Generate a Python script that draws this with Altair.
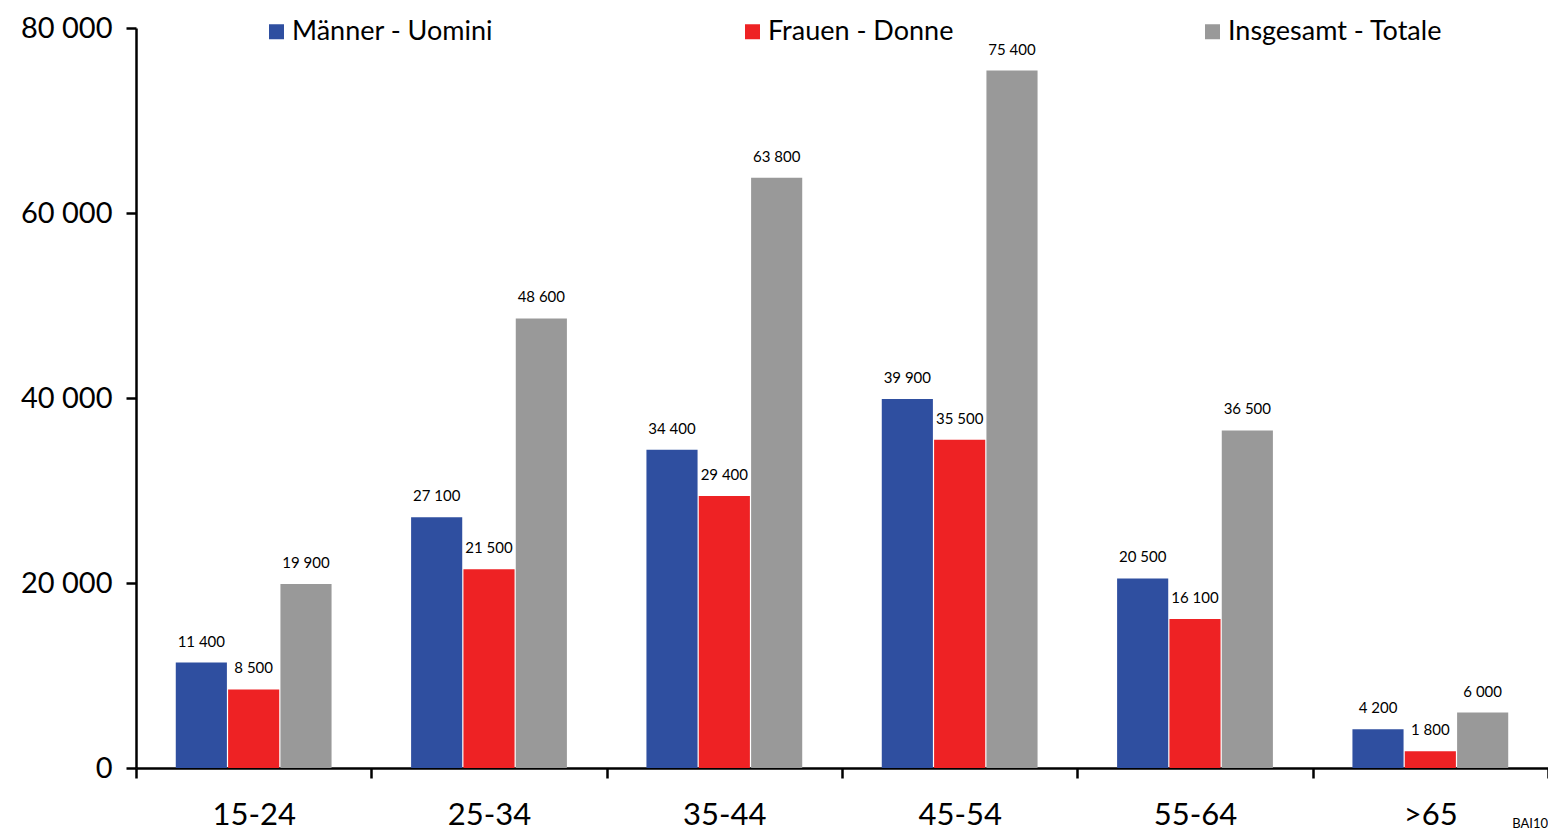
import altair as alt
import pandas as pd

age_groups = ["15-24", "25-34", "35-44", "45-54", "55-64", ">65"]
series = ["Männer - Uomini", "Frauen - Donne", "Insgesamt - Totale"]
maenner = [11400, 27100, 34400, 39900, 20500, 4200]
frauen = [8500, 21500, 29400, 35500, 16100, 1800]
insgesamt = [19900, 48600, 63800, 75400, 36500, 6000]
colors = ["#2f4fa0", "#ee2224", "#999999"]
y_ticks = [0, 20000, 40000, 60000, 80000]
source_note = ["BAI10"]

rows = []
for i, a in enumerate(age_groups):
    for s, vals in zip(series, [maenner, frauen, insgesamt]):
        rows.append({"age": a, "series": s, "value": vals[i]})
df = pd.DataFrame(rows)

FONT = "Lato"
W, H = 1412, 740

x_enc = alt.X(
    "age:N", sort=age_groups,
    scale=alt.Scale(paddingInner=0, paddingOuter=0),
    axis=alt.Axis(title=None, labelAngle=0, tickBand="extent", tickSize=10,
                  tickWidth=2.5, tickColor="black", domainWidth=2.5,
                  domainColor="black", labelFont=FONT, labelFontSize=31,
                  labelColor="black", labelPadding=22, grid=False),
)
xoff_enc = alt.XOffset("series:N", sort=series,
                       scale=alt.Scale(paddingInner=0.023, paddingOuter=0.76))
y_enc = alt.Y(
    "value:Q",
    scale=alt.Scale(domain=[0, 80000], nice=False),
    axis=alt.Axis(title=None, values=y_ticks, tickSize=10, tickWidth=2.5,
                  tickColor="black", domainWidth=2.5, domainColor="black",
                  labelFont=FONT, labelFontSize=29, labelColor="black",
                  labelPadding=14, grid=False,
                  labelExpr="replace(format(datum.value, ','), ',', ' ')"),
)

color_enc = alt.Color(
    "series:N", sort=series,
    scale=alt.Scale(domain=series, range=colors),
    legend=alt.Legend(title=None, orient="none", legendX=127, legendY=-10,
                      direction="horizontal", symbolType="square",
                      symbolSize=225, symbolStrokeWidth=0, labelFont=FONT,
                      labelFontSize=27, labelColor="black", labelOffset=2,
                      labelLimit=0, columnPadding=245),
)

bars = alt.Chart(df).mark_bar().encode(
    x=x_enc, xOffset=xoff_enc, y=y_enc, color=color_enc
)

labels = alt.Chart(df).transform_calculate(
    lbl="replace(format(datum.value, ','), ',', ' ')"
).mark_text(font=FONT, fontSize=15, color="black", dy=-16,
            baseline="alphabetic", align="center").encode(
    x=alt.X("age:N", sort=age_groups),
    xOffset=alt.XOffset("series:N", sort=series),
    y="value:Q",
    text="lbl:N",
)

note = alt.Chart(pd.DataFrame({"t": source_note})).mark_text(
    font=FONT, fontSize=13, color="black", align="right", baseline="alphabetic"
).encode(text="t:N", x=alt.value(W), y=alt.value(H + 60))

chart = alt.layer(bars, labels, note).properties(
    width=W, height=H,
    autosize=alt.AutoSizeParams(type="none"),
    padding={"left": 128, "top": 20, "right": 0, "bottom": 62},
).configure_view(stroke=None)

chart.save("out.html", embed_options={"renderer": "svg", "actions": False})
